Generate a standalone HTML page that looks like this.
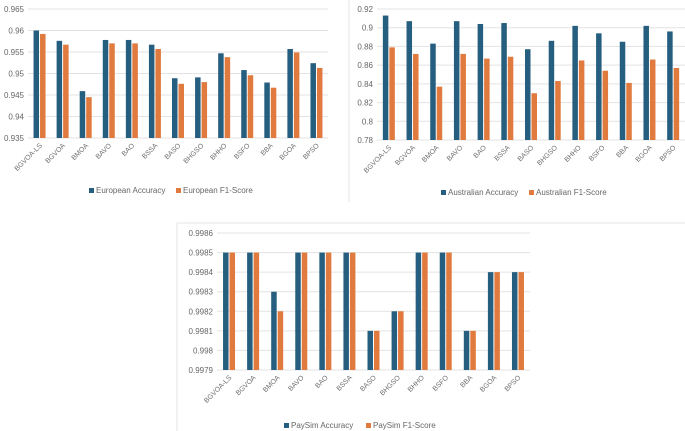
<!DOCTYPE html>
<html><head><meta charset="utf-8"><style>
body{margin:0;background:#fff;width:685px;height:431px;overflow:hidden}
svg{display:block;font-family:"Liberation Sans",sans-serif}
</style></head><body>
<svg id="s" width="685" height="431">
<line x1="349" y1="0" x2="349" y2="202" stroke="#e6e6e6"/>
<line x1="177" y1="223" x2="685" y2="223" stroke="#e6e6e6"/>
<line x1="177" y1="223" x2="177" y2="431" stroke="#e6e6e6"/>
</svg>
<script>
const categories=["BGVOA-LS","BGVOA","BMOA","BAVO","BAO","BSSA","BASO","BHGSO","BHHO","BSFO","BBA","BGOA","BPSO"];
const euAcc=[0.9600,0.9576,0.9459,0.9578,0.9578,0.9567,0.9489,0.9491,0.9547,0.9508,0.9479,0.9557,0.9524];
const euF1=[0.9592,0.9567,0.9445,0.9570,0.9570,0.9557,0.9476,0.9480,0.9538,0.9496,0.9467,0.9549,0.9513];
const euTicks=["0.935","0.94","0.945","0.95","0.955","0.96","0.965"];
const auAcc=[0.913,0.907,0.883,0.907,0.904,0.905,0.877,0.886,0.902,0.894,0.885,0.902,0.896];
const auF1=[0.879,0.872,0.837,0.872,0.867,0.869,0.830,0.843,0.865,0.854,0.841,0.866,0.857];
const auTicks=["0.78","0.8","0.82","0.84","0.86","0.88","0.9","0.92"];
const psAcc=[0.9985,0.9985,0.9983,0.9985,0.9985,0.9985,0.9981,0.9982,0.9985,0.9985,0.9981,0.9984,0.9984];
const psF1=[0.9985,0.9985,0.9982,0.9985,0.9985,0.9985,0.9981,0.9982,0.9985,0.9985,0.9981,0.9984,0.9984];
const psTicks=["0.9979","0.998","0.9981","0.9982","0.9983","0.9984","0.9985","0.9986"];
const NS="http://www.w3.org/2000/svg";
const svg=document.getElementById('s');
function mk(tag,at){const e=document.createElementNS(NS,tag);for(const k in at)e.setAttribute(k,at[k]);svg.appendChild(e);return e;}
function chart(o){
  const n=o.ticks.length, lo=+o.ticks[0], hi=+o.ticks[n-1];
  const y=v=>o.bot-(v-lo)/(hi-lo)*(o.bot-o.top);
  const step=(o.right-o.left)/categories.length;
  const x=i=>o.left+step*i+step/2;
  o.ticks.forEach(t=>{
    const g=mk('line',{x1:o.left,x2:o.right,y1:y(+t),y2:y(+t),stroke:'#e3e3e3','stroke-width':1});
    
    
    const l=mk('text',{x:o.left-4,y:y(+t)+3,'font-size':8,fill:'#666','text-anchor':'end'});
    l.textContent=t;
    
    
  });
  categories.forEach((c,i)=>{
    const a=mk('rect',{x:x(i)-o.bw-0.5,y:y(o.a[i]),width:o.bw,height:o.bot-y(o.a[i]),fill:'#255e7e'});
    
    
    const f=mk('rect',{x:x(i)+0.5,y:y(o.f[i]),width:o.bw,height:o.bot-y(o.f[i]),fill:'#e07a3e'});
    
    
    const t=mk('text',{x:x(i)+3,y:o.bot+8,'font-size':7,fill:'#707070','text-anchor':'end',transform:`rotate(-45 ${x(i)+3} ${o.bot+8})`});
    t.textContent=c;
    
    
  });
  const r1=mk('rect',{x:o.lx,y:o.ly-6,width:5,height:5,fill:'#255e7e'});
  
  
  const t1=mk('text',{x:o.lx+7,y:o.ly-1,'font-size':8,fill:'#666'});t1.textContent=o.n1;
  
  
  const r2=mk('rect',{x:o.lx2,y:o.ly-6,width:5,height:5,fill:'#e07a3e'});
  
  
  const t2=mk('text',{x:o.lx2+7,y:o.ly-1,'font-size':8,fill:'#666'});t2.textContent=o.n2;
  
  
}
chart({a:euAcc,f:euF1,ticks:euTicks,left:28,right:328,top:9,bot:138,bw:5.5,lx:89,lx2:176,ly:194,n1:"European Accuracy",n2:"European F1-Score"});
chart({a:auAcc,f:auF1,ticks:auTicks,left:377,right:685,top:9,bot:140,bw:5.5,lx:441,lx2:529,ly:196,n1:"Australian Accuracy",n2:"Australian F1-Score"});
chart({a:psAcc,f:psF1,ticks:psTicks,left:217,right:530,top:233,bot:370,bw:5.5,lx:284,lx2:366,ly:429,n1:"PaySim Accuracy",n2:"PaySim F1-Score"});
</script>
</body></html>
